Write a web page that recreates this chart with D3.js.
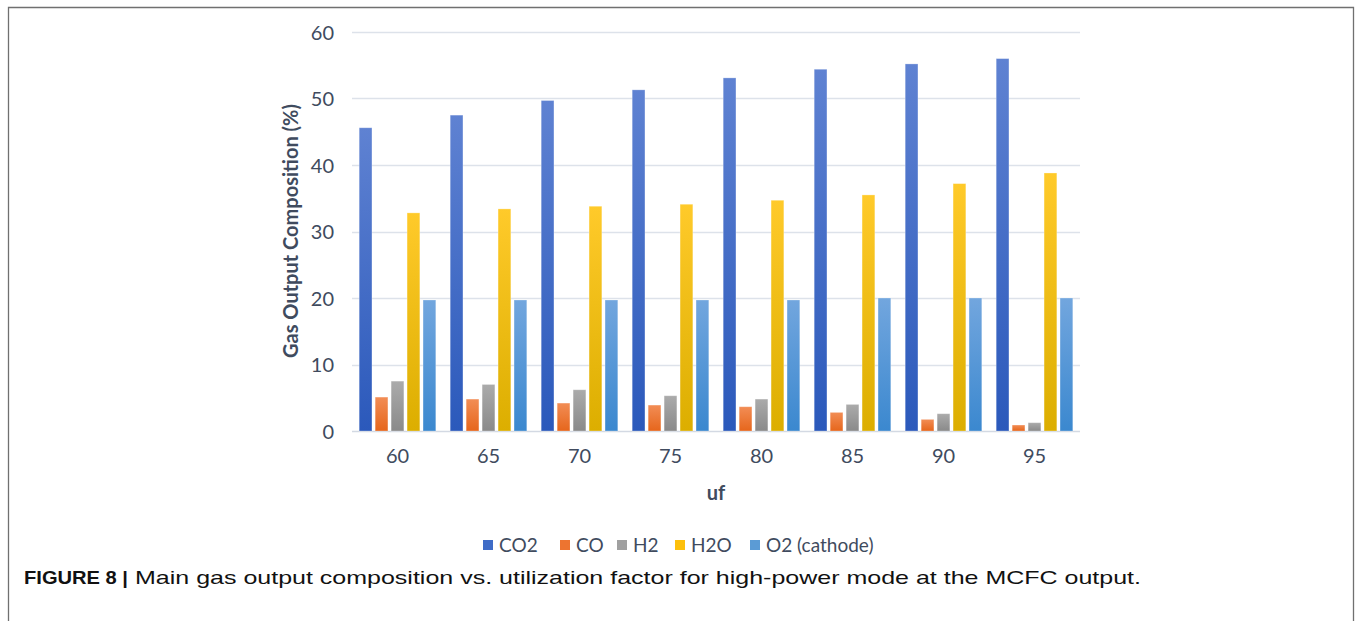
<!DOCTYPE html>
<html>
<head>
<meta charset="utf-8">
<script src="https://cdn.jsdelivr.net/npm/d3@7"></script>
<style>
  html, body { margin: 0; padding: 0; background: #fff; }
  svg { display: block; }
</style>
</head>
<body>
<svg id="chart" width="1356" height="621"></svg>
<script>
const categories = ["60", "65", "70", "75", "80", "85", "90", "95"];
const seriesNames = ["CO2", "CO", "H2", "H2O", "O2 (cathode)"];
const co2 = [45.6, 47.5, 49.7, 51.3, 53.1, 54.4, 55.2, 56.0];
const co  = [5.1, 4.8, 4.2, 3.9, 3.65, 2.8, 1.75, 0.9];
const h2  = [7.5, 7.0, 6.2, 5.3, 4.8, 4.0, 2.6, 1.25];
const h2o = [32.8, 33.4, 33.8, 34.1, 34.7, 35.5, 37.2, 38.8];
const o2  = [19.7, 19.7, 19.7, 19.7, 19.7, 20.0, 20.0, 20.0];
const yTicks = [0, 10, 20, 30, 40, 50, 60];
const seriesValues = [co2, co, h2, h2o, o2];
const colorsTop = ["#5f82d2", "#f28d55", "#ababab", "#ffca2a", "#72a6de"];
const colorsBot = ["#2b59bb", "#e6661c", "#8a8a8a", "#dcae00", "#3b88cf"];
const legendColors = ["#3f6cc7", "#ed7430", "#a0a0a0", "#fdc00c", "#5b9bd5"];

const svg = d3.select("#chart");
const defs = svg.append("defs");
seriesNames.forEach((s, i) => {
  const g = defs.append("linearGradient").attr("id", "grad" + i)
    .attr("x1", 0).attr("y1", 0).attr("x2", 0).attr("y2", 1);
  g.append("stop").attr("offset", "0%").attr("stop-color", colorsTop[i]);
  g.append("stop").attr("offset", "100%").attr("stop-color", colorsBot[i]);
});

// frame
svg.append("path").attr("d", "M8.5,621 L8.5,7.5 L1353.5,7.5 L1353.5,621")
  .attr("fill", "none").attr("stroke", "#707070").attr("stroke-width", 1.3);

const plot = {left: 352, right: 1080, top: 32, bottom: 431};
const x = d3.scaleBand().domain(categories).range([plot.left, plot.right]).paddingInner(0).paddingOuter(0);
const xs = d3.scaleBand().domain(seriesNames).range([0, x.bandwidth()]).paddingInner(0.2).paddingOuter(0.45);
const y = d3.scaleLinear().domain([0, 60]).range([plot.bottom, plot.top]);

// gridlines
svg.append("g").selectAll("line").data(yTicks).join("line")
  .attr("x1", plot.left).attr("x2", plot.right)
  .attr("y1", d => Math.round(y(d)) + 0.5).attr("y2", d => Math.round(y(d)) + 0.5)
  .attr("stroke", d => d === 0 ? "#d3d9e3" : "#dde2ea").attr("stroke-width", 1.6);

const fontTick = "Lato, 'Open Sans', sans-serif";
const tickColor = "#404b5e";

// y axis labels
const yAxis = d3.axisLeft(y).tickValues(yTicks).tickSize(0).tickPadding(0);
const gy = svg.append("g").attr("transform", `translate(334,0)`).call(yAxis);
gy.select(".domain").remove();
gy.selectAll("text").attr("font-family", fontTick).attr("font-size", 20).attr("fill", tickColor).attr("dy", "0.35em");

// x axis labels
const xAxis = d3.axisBottom(x).tickSize(0).tickPadding(0);
const gx = svg.append("g").attr("transform", `translate(0,${plot.bottom + 14})`).call(xAxis);
gx.select(".domain").remove();
gx.selectAll("text").attr("font-family", fontTick).attr("font-size", 20).attr("fill", tickColor).attr("dy", "0.9em");

// bars
const groups = svg.append("g").selectAll("g").data(categories).join("g")
  .attr("transform", d => `translate(${x(d)},0)`);
groups.selectAll("rect").data((d, ci) => seriesNames.map((s, si) => ({s, si, v: seriesValues[si][ci]})))
  .join("rect")
  .attr("x", d => xs(d.s))
  .attr("width", xs.bandwidth())
  .attr("y", d => y(d.v))
  .attr("height", d => y(0) - y(d.v))
  .attr("fill", d => `url(#grad${d.si})`)
  .attr("stroke", "rgba(255,255,255,0.35)").attr("stroke-width", 0.8);

// axis titles
svg.append("text").attr("x", 716).attr("y", 500).attr("text-anchor", "middle")
  .attr("font-family", fontTick).attr("font-weight", "bold").attr("font-size", 20).attr("fill", tickColor).text("uf");
svg.append("text").attr("transform", "translate(298,231) rotate(-90)").attr("text-anchor", "middle")
  .attr("font-family", fontTick).attr("font-weight", "bold").attr("font-size", 20).attr("fill", tickColor)
  .text("Gas Output Composition (%)");

// legend
const legendX = [483, 560, 617, 675, 750];
const lg = svg.append("g").selectAll("g").data(seriesNames).join("g")
  .attr("transform", (d, i) => `translate(${legendX[i]},545)`);
lg.append("rect").attr("x", 0).attr("y", -5).attr("width", 10).attr("height", 10)
  .attr("fill", (d, i) => legendColors[i]);
lg.append("text").attr("x", 16).attr("y", 0).attr("dy", "0.35em")
  .attr("font-family", fontTick).attr("font-size", 19).attr("fill", tickColor).text(d => d);

// caption
const capFont = "'Liberation Sans', Arial, sans-serif";
svg.append("text").attr("x", 24).attr("y", 584)
  .attr("font-family", capFont).attr("font-size", 19).attr("font-weight", "bold").attr("fill", "#111")
  .attr("textLength", 104).attr("lengthAdjust", "spacingAndGlyphs").text("FIGURE 8 |");
svg.append("text").attr("x", 135).attr("y", 584)
  .attr("font-family", capFont).attr("font-size", 19).attr("fill", "#111")
  .attr("textLength", 1006).attr("lengthAdjust", "spacingAndGlyphs")
  .text("Main gas output composition vs. utilization factor for high-power mode at the MCFC output.");
</script>
</body>
</html>
